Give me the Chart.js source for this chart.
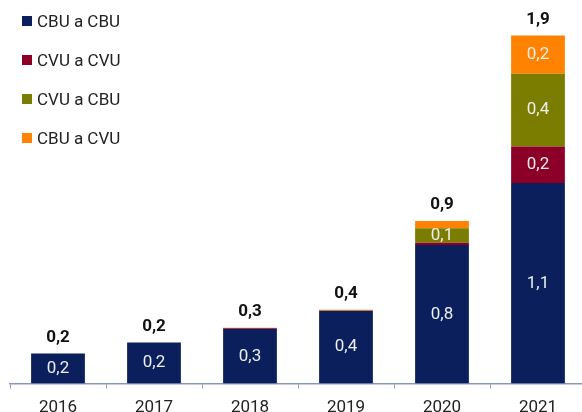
<!DOCTYPE html>
<html>
<head>
<meta charset="utf-8">
<script src="https://cdn.jsdelivr.net/npm/chart.js@4"></script>
<style>
  html, body { margin: 0; padding: 0; background: #fff; overflow: hidden; }
  #wrap { position: relative; width: 590px; height: 427px; }
  #legend { position: absolute; left: 22px; top: 10px; font-family: Roboto, sans-serif; font-size: 17px; color: #222; }
  #legend div { height: 39px; line-height: 22px; display: flex; align-items: flex-start; }
  #legend span.box { display: inline-block; width: 10px; height: 10px; margin: 6px 5px 0 0; }
</style>
</head>
<body>
<div id="wrap">
  <canvas id="chart"></canvas>
  <div id="legend"></div>
</div>
<script>
// Datos (billones)
const years = ['2016', '2017', '2018', '2019', '2020', '2021'];
const seriesNames = ['CBU a CBU', 'CVU a CVU', 'CVU a CBU', 'CBU a CVU'];
const cbuACbu = [0.165, 0.225, 0.30, 0.40, 0.76, 1.10];
const cvuACvu = [0, 0, 0.003, 0, 0.012, 0.20];
const cvuACbu = [0, 0, 0, 0, 0.08, 0.40];
const cbuACvu = [0, 0, 0.004, 0.005, 0.04, 0.21];
const colors = ['#0a1f5c', '#8c0028', '#7a7d00', '#ff8200'];

const fmt = v => v.toFixed(1).replace('.', ',');

// Plugin para etiquetas de valores y totales
const labelsPlugin = {
    id: 'labels',
    afterDatasetsDraw(chart) {
        const ctx = chart.ctx;
        ctx.save();
        ctx.textAlign = 'center';
        ctx.textBaseline = 'middle';
        chart.data.datasets.forEach((ds, i) => {
            const meta = chart.getDatasetMeta(i);
            meta.data.forEach((bar, j) => {
                const v = ds.data[j];
                if (v < 0.06) return;
                ctx.font = '17px Roboto';
                ctx.fillStyle = '#eeeeee';
                ctx.fillText(fmt(v), bar.x, (bar.y + bar.base) / 2);
            });
        });
        const yScale = chart.scales.y;
        const lastMeta = chart.getDatasetMeta(chart.data.datasets.length - 1);
        years.forEach((y, j) => {
            const total = cbuACbu[j] + cvuACvu[j] + cvuACbu[j] + cbuACvu[j];
            ctx.font = 'bold 17px Roboto';
            ctx.fillStyle = '#111';
            ctx.fillText(fmt(total), lastMeta.data[j].x, yScale.getPixelForValue(total) - 16);
        });
        ctx.restore();
    }
};

const seriesData = [cbuACbu, cvuACvu, cvuACbu, cbuACvu];

const chart = new Chart(document.getElementById('chart'), {
    type: 'bar',
    data: {
        labels: years,
        datasets: seriesNames.map((name, i) => ({
            label: name,
            data: seriesData[i],
            backgroundColor: colors[i],
            borderWidth: 0,
            categoryPercentage: 1,
            barPercentage: 0.56
        }))
    },
    options: {
        responsive: true,
        maintainAspectRatio: false,
        animation: false,
        layout: { padding: { left: 10, right: 4, top: 19, bottom: 0 } },
        plugins: {
            legend: { display: false },
            tooltip: { enabled: false }
        },
        scales: {
            x: {
                stacked: true,
                grid: {
                    drawOnChartArea: false,
                    drawTicks: true,
                    tickLength: 5,
                    color: '#8a97b8'
                },
                border: { display: true, color: '#8a97b8', width: 1.5 },
                ticks: {
                    padding: 9,
                    color: '#222',
                    font: { family: 'Roboto', size: 17 }
                }
            },
            y: {
                stacked: true,
                display: false,
                min: 0,
                max: 2.0
            }
        }
    },
    plugins: [labelsPlugin]
});

// Leyenda en HTML
const legendEl = document.getElementById('legend');
seriesNames.forEach((name, i) => {
    const row = document.createElement('div');
    row.innerHTML = '<span class="box" style="background:' + colors[i] + '"></span>' + name;
    legendEl.appendChild(row);
});
</script>
</body>
</html>
